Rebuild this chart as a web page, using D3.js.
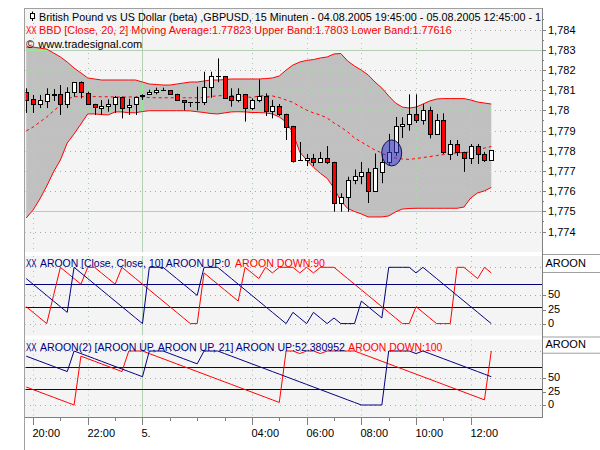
<!DOCTYPE html>
<html><head><meta charset="utf-8">
<script src="https://cdn.jsdelivr.net/npm/d3@7"></script>
<style>body{margin:0;background:#fff;}svg{display:block;font-family:"Liberation Sans",Arial,sans-serif;font-size:11px;}</style>
</head><body><svg id="c" width="600" height="450"></svg>
<script>
// ---------- data ----------
const openP  = [1.78089,1.78054,1.78031,1.78048,1.78079,1.78079,1.78031,1.78089,1.78139,1.78087,1.78031,1.78010,1.78021,1.78031,1.78067,1.78018,1.78030,1.78069,1.78079,1.78089,1.78102,1.78099,1.78079,1.78050,1.78040,1.78040,1.78040,1.78117,1.78168,1.78168,1.78069,1.78050,1.78079,1.78010,1.78050,1.78070,1.77998,1.78021,1.77982,1.77922,1.77754,1.77754,1.77762,1.77744,1.77762,1.77744,1.77540,1.77569,1.77655,1.77675,1.77695,1.77599,1.77695,1.77744,1.77794,1.77922,1.77932,1.77982,1.77952,1.78001,1.77883,1.77952,1.77784,1.77833,1.77794,1.77764,1.77823,1.77784,1.77754];
const highP  = [1.78109,1.78076,1.78076,1.78109,1.78105,1.78125,1.78114,1.78140,1.78143,1.78092,1.78032,1.78051,1.78054,1.78071,1.78068,1.78057,1.78068,1.78079,1.78102,1.78112,1.78112,1.78100,1.78082,1.78050,1.78041,1.78117,1.78191,1.78191,1.78257,1.78170,1.78109,1.78109,1.78081,1.78059,1.78153,1.78084,1.78051,1.78031,1.77983,1.77923,1.77843,1.77784,1.77784,1.77794,1.77823,1.77745,1.77589,1.77671,1.77707,1.77744,1.77713,1.77786,1.77784,1.77883,1.77967,1.77965,1.78079,1.78079,1.78031,1.78018,1.77982,1.77985,1.77853,1.77853,1.77795,1.77833,1.77833,1.77794,1.77803];
const lowP   = [1.77987,1.77987,1.78011,1.78011,1.78046,1.77977,1.78011,1.78067,1.78059,1.78026,1.77977,1.77977,1.77993,1.77987,1.77960,1.77977,1.77977,1.78051,1.78076,1.78079,1.78099,1.78078,1.78046,1.78000,1.78016,1.78000,1.78026,1.78062,1.78139,1.78058,1.78018,1.78040,1.77944,1.78001,1.78040,1.77972,1.77960,1.77972,1.77853,1.77741,1.77753,1.77724,1.77724,1.77743,1.77734,1.77498,1.77498,1.77498,1.77634,1.77634,1.77541,1.77598,1.77639,1.77728,1.77774,1.77863,1.77899,1.77937,1.77929,1.77861,1.77882,1.77784,1.77754,1.77774,1.77695,1.77734,1.77734,1.77744,1.77754];
const closeP = [1.78050,1.78031,1.78051,1.78079,1.78078,1.78030,1.78089,1.78139,1.78089,1.78031,1.78018,1.78021,1.78031,1.78067,1.78010,1.78026,1.78067,1.78078,1.78089,1.78099,1.78101,1.78079,1.78050,1.78040,1.78040,1.78041,1.78117,1.78168,1.78168,1.78059,1.78050,1.78079,1.78010,1.78050,1.78069,1.77998,1.78021,1.77982,1.77919,1.77751,1.77754,1.77762,1.77744,1.77762,1.77744,1.77540,1.77569,1.77655,1.77675,1.77695,1.77599,1.77713,1.77744,1.77795,1.77920,1.77932,1.77982,1.77950,1.78001,1.77883,1.77952,1.77794,1.77833,1.77794,1.77764,1.77823,1.77784,1.77754,1.77803];
const upperBand = [1.78313,1.78313,1.78308,1.78303,1.78284,1.78264,1.78239,1.78209,1.78185,1.78160,1.78155,1.78150,1.78150,1.78150,1.78150,1.78150,1.78150,1.78140,1.78130,1.78128,1.78125,1.78125,1.78130,1.78135,1.78140,1.78140,1.78145,1.78150,1.78150,1.78152,1.78155,1.78155,1.78155,1.78155,1.78155,1.78157,1.78160,1.78170,1.78199,1.78224,1.78239,1.78247,1.78251,1.78259,1.78264,1.78279,1.78281,1.78244,1.78219,1.78199,1.78175,1.78140,1.78110,1.78071,1.78036,1.78016,1.78011,1.78016,1.78031,1.78046,1.78056,1.78058,1.78058,1.78058,1.78058,1.78051,1.78041,1.78036,1.78031];
const lowerBand = [1.77467,1.77506,1.77561,1.77625,1.77695,1.77754,1.77838,1.77883,1.77932,1.77982,1.77982,1.77979,1.77977,1.77992,1.77992,1.77988,1.77988,1.77994,1.77998,1.77998,1.77998,1.77998,1.77998,1.77998,1.77997,1.77993,1.77989,1.77984,1.77982,1.77987,1.77992,1.77993,1.77992,1.77989,1.77989,1.77987,1.77982,1.77967,1.77942,1.77888,1.77793,1.77754,1.77718,1.77688,1.77663,1.77615,1.77551,1.77514,1.77499,1.77487,1.77472,1.77472,1.77472,1.77477,1.77497,1.77511,1.77514,1.77515,1.77515,1.77515,1.77515,1.77515,1.77515,1.77515,1.77521,1.77566,1.77591,1.77601,1.77618];
const movingAvg = [1.77898,1.77917,1.77942,1.77967,1.77997,1.78026,1.78056,1.78067,1.78068,1.78067,1.78068,1.78067,1.78067,1.78066,1.78066,1.78066,1.78066,1.78066,1.78063,1.78062,1.78062,1.78062,1.78062,1.78062,1.78062,1.78062,1.78063,1.78068,1.78072,1.78073,1.78073,1.78072,1.78068,1.78063,1.78071,1.78073,1.78071,1.78063,1.78051,1.78039,1.78019,1.78001,1.77987,1.77977,1.77962,1.77937,1.77917,1.77893,1.77863,1.77843,1.77823,1.77803,1.77789,1.77769,1.77764,1.77759,1.77757,1.77761,1.77766,1.77771,1.77776,1.77781,1.77786,1.77789,1.77791,1.77794,1.77803,1.77813,1.77821];
const aroonUp1   = [80,70,60,50,40,30,20,100,90,80,70,60,50,40,30,20,10,0,100,100,100,90,80,70,60,50,100,100,100,90,80,70,60,50,40,30,20,10,0,20,10,0,20,10,0,10,0,0,0,40,30,20,10,100,100,100,100,90,100,90,80,70,60,50,40,30,20,10,0];
const aroonDown1 = [30,20,10,0,50,100,90,80,70,100,100,90,80,70,100,90,80,70,60,50,40,30,20,10,0,0,90,80,70,60,50,40,100,90,80,100,90,100,100,100,90,100,90,100,100,100,90,80,70,60,50,40,30,20,10,0,0,30,20,10,0,0,0,100,100,90,80,100,90];
const aroonUp2   = [90.48,85.71,80.95,76.19,71.43,66.67,61.90,100,95.24,90.48,85.71,80.95,76.19,71.43,66.67,61.90,57.14,52.38,100,100,100,95.24,90.48,85.71,80.95,76.19,100,100,100,95.24,90.48,85.71,80.95,76.19,71.43,66.67,61.90,57.14,52.38,47.62,42.86,38.10,33.33,28.57,23.81,19.05,14.29,9.52,4.76,0,0,0,0,100,100,100,100,95.24,100,95.24,90.48,85.71,80.95,76.19,71.43,66.67,61.90,57.14,52.38];
const aroonDown2 = [33.33,28.57,23.81,19.05,14.29,9.52,4.76,0,90.48,85.71,80.95,76.19,71.43,66.67,61.90,100,100,100,95.24,90.48,85.71,80.95,76.19,71.43,66.67,61.90,57.14,52.38,47.62,42.86,38.10,33.33,28.57,23.81,19.05,14.29,9.52,4.76,100,100,95.24,100,100,95.24,100,100,100,100,100,95.24,90.48,85.71,80.95,76.19,71.43,66.67,61.90,57.14,52.38,47.62,42.86,38.10,33.33,28.57,23.81,19.05,14.29,9.52,100];
const priceTicks = [1.774,1.775,1.776,1.777,1.778,1.779,1.780,1.781,1.782,1.783,1.784];
const aroonTicks = [0,25,50];
const aroonGrid = [0,50,100];
const aroonLevels = [30,70];
const majorTickHours = [[4,20],[4,22],[5,0],[5,4],[5,6],[5,8],[5,10],[5,12]];
const majorTickLabels = ["20:00","22:00","5.","04:00","06:00","08:00","10:00","12:00"];
const minorTickHours = [[4,21],[4,23],[5,1],[5,2],[5,3],[5,5],[5,7],[5,9],[5,11]];
const titleText = "British Pound vs US Dollar (beta) ,GBPUSD, 15 Minuten - 04.08.2005 19:45:00 - 05.08.2005 12:45:00 - 1";
const bbText = "BBD [Close, 20, 2] Moving Average:1.77823 Upper Band:1.7803 Lower Band:1.77616";
const aroon1Text = ["AROON [Close, Close, 10] AROON UP:0", "AROON DOWN:90"];
const aroon2Text = ["AROON(2) [AROON UP, AROON UP, 21] AROON UP:52.380952", "AROON DOWN:100"];
const markBar = 53, markPrice = 1.77789;

// ---------- setup ----------
const svg = d3.select('#c');
const L = 25, R = 542;
const T0 = new Date(2005,7,4,19,45);
const times = openP.map((_,i)=>new Date(T0.getTime()+i*15*60000));
const x = d3.scaleTime().domain([times[0], times[times.length-1]]).range([26.2, 491.3]);
const y = d3.scaleLinear().domain([1.774,1.784]).range([231.5,29.5]);
const ya1 = d3.scaleLinear().domain([0,100]).range([323.6,267.3]);
const ya2 = d3.scaleLinear().domain([0,100]).range([405,351]);
const P = {main:[8,252], a1:[256,335.5], a2:[339.5,417.5]};
const hourDate = (d,h)=>new Date(2005,7,d,h,0);
const majors = majorTickHours.map(a=>hourDate(a[0],a[1]));
const minors = minorTickHours.map(a=>hourDate(a[0],a[1]));
const midnight = hourDate(5,0);
const defs = svg.append('defs');
const fmtP = v => d3.format(".3~f")(v).replace('.',',');
const px = v => Math.round(v)+0.5;

function fit(sel,w){const l=sel.node().getComputedTextLength(); if(Math.abs(l-w)>1) sel.attr('textLength',w).attr('lengthAdjust','spacingAndGlyphs');}

Object.entries(P).forEach(([k,[t,b]])=>{
  svg.append('rect').attr('x',L).attr('y',t).attr('width',R-L).attr('height',b-t).attr('fill','#f4f4f4');
  defs.append('clipPath').attr('id','clip_'+k).append('rect').attr('x',L+0.5).attr('y',t).attr('width',R-L-0.5).attr('height',b-t);
});

function vGrid(g,t,b,color){
  majors.filter(d=>+d!==+midnight).forEach(d=>{
    g.append('line').attr('x1',px(x(d))).attr('x2',px(x(d))).attr('y1',t).attr('y2',b)
     .attr('stroke',color).attr('stroke-dasharray','1,4');
  });
}
function hGrid(g,vals,sc,color){
  vals.forEach(v=>g.append('line').attr('x1',L).attr('x2',R).attr('y1',px(sc(v))).attr('y2',px(sc(v)))
     .attr('stroke',color).attr('stroke-dasharray','1,4'));
}

// ---------- main panel ----------
const gm = svg.append('g').attr('clip-path','url(#clip_main)');
hGrid(gm,priceTicks,y,'#a8a8a8');
vGrid(gm,P.main[0],P.main[1],'#a8c8a8');
const solidG = '#b4d0b4';
gm.append('line').attr('x1',px(x(midnight))).attr('x2',px(x(midnight))).attr('y1',P.main[0]).attr('y2',P.main[1]).attr('stroke',solidG);
[1.783,1.775].forEach(v=>gm.append('line').attr('x1',L).attr('x2',R).attr('y1',px(y(v))).attr('y2',px(y(v))).attr('stroke',solidG));

const bandArea = d3.area().x((d,i)=>x(times[i])).y0((d,i)=>y(lowerBand[i])).y1(d=>y(d));
gm.append('path').datum(upperBand).attr('d',bandArea).attr('fill','#c0c0c0');
defs.append('clipPath').attr('id','bandClip').append('path').datum(upperBand).attr('d',bandArea);
const gb = gm.append('g').attr('clip-path','url(#bandClip)');
hGrid(gb,priceTicks,y,'#90ee90');
vGrid(gb,P.main[0],P.main[1],'#90ee90');
gb.append('line').attr('x1',px(x(midnight))).attr('x2',px(x(midnight))).attr('y1',P.main[0]).attr('y2',P.main[1]).attr('stroke','#90ee90');
[1.783,1.775].forEach(v=>gb.append('line').attr('x1',L).attr('x2',R).attr('y1',px(y(v))).attr('y2',px(y(v))).attr('stroke','#90ee90'));

const ln = arr => d3.line().x((d,i)=>x(times[i])).y(d=>y(d))(arr);
gm.append('path').attr('d',ln(upperBand)).attr('fill','none').attr('stroke','#ff0000');
gm.append('path').attr('d',ln(lowerBand)).attr('fill','none').attr('stroke','#ff0000');
gm.append('path').attr('d',ln(movingAvg)).attr('fill','none').attr('stroke','#ff0000').attr('stroke-dasharray','3,3');

times.forEach((t,i)=>{
  const cx = px(x(t));
  const o=openP[i], c=closeP[i];
  gm.append('line').attr('x1',cx).attr('x2',cx).attr('y1',y(highP[i])).attr('y2',y(lowP[i])).attr('stroke','#000');
  const top = Math.round(y(Math.max(o,c)))+0.5, bot = Math.round(y(Math.min(o,c)))+0.5;
  if (bot-top < 1) {
    gm.append('line').attr('x1',cx-2.5).attr('x2',cx+2.5).attr('y1',top).attr('y2',top).attr('stroke','#000');
  } else {
    gm.append('rect').attr('x',cx-2).attr('y',top).attr('width',4).attr('height',bot-top)
      .attr('fill', c>=o ? '#ffffff' : '#ff0000').attr('stroke','#000');
  }
});
gm.append('ellipse').attr('cx',x(times[markBar])+3).attr('cy',y(markPrice)).attr('rx',10).attr('ry',13)
  .attr('fill','rgb(60,60,210)').attr('fill-opacity',0.55).attr('stroke','#10104a');

// header
const gh = svg.append('g').attr('clip-path','url(#clip_main)');
gh.append('line').attr('x1',32.5).attr('x2',32.5).attr('y1',11.5).attr('y2',21).attr('stroke','#000');
gh.append('rect').attr('x',30.5).attr('y',13.5).attr('width',4).attr('height',5).attr('fill','#fff').attr('stroke','#000');
fit(gh.append('text').attr('x',39).attr('y',20.5).attr('fill','#000').text(titleText),502);
fit(gh.append('text').attr('x',26).attr('y',34.2).attr('fill','#ff0000').attr('font-size','10px').text('XX'),10.5);
fit(gh.append('text').attr('x',39).attr('y',34.2).attr('fill','#ff0000').text(bbText),412.7);
fit(gh.append('text').attr('x',26).attr('y',47.7).attr('fill','#000').text('©'),7.5);
fit(gh.append('text').attr('x',38.3).attr('y',47.7).attr('fill','#000').text('www.tradesignal.com'),103.4);

// ---------- aroon panels ----------
function aroonPanel(key,sc,up,down,texts,len,baseline){
  const [t,b]=P[key];
  const g = svg.append('g').attr('clip-path','url(#clip_'+key+')');
  hGrid(g,aroonGrid,sc,'#a8a8a8');
  vGrid(g,t,b,'#a8c8a8');
  g.append('line').attr('x1',px(x(midnight))).attr('x2',px(x(midnight))).attr('y1',t).attr('y2',b).attr('stroke',solidG);
  aroonLevels.forEach(v=>g.append('line').attr('x1',L).attr('x2',R).attr('y1',px(sc(v))).attr('y2',px(sc(v))).attr('stroke','#000080'));
  const l = d3.line().x((d,i)=>x(times[i])).y(d=>sc(d));
  g.append('path').attr('d',l(down)).attr('fill','none').attr('stroke','#ff0000');
  g.append('path').attr('d',l(up)).attr('fill','none').attr('stroke','#000080');
  fit(g.append('text').attr('x',26).attr('y',baseline).attr('fill','#000080').attr('font-size','10px').text('XX'),10.5);
  fit(g.append('text').attr('x',40).attr('y',baseline).attr('fill','#000080').text(texts[0]),len[0]);
  fit(g.append('text').attr('x',len[1]).attr('y',baseline).attr('fill','#ff0000').text(texts[1]),len[2]);
  aroonTicks.forEach(v=>{
    svg.append('line').attr('x1',R).attr('x2',R+4).attr('y1',px(sc(v))).attr('y2',px(sc(v))).attr('stroke','#808080');
    svg.append('text').attr('x',548).attr('y',sc(v)+3).attr('fill','#000').text(v);
  });
}
aroonPanel('a1',ya1,aroonUp1,aroonDown1,aroon1Text,[190,235,90],267.3);
aroonPanel('a2',ya2,aroonUp2,aroonDown2,aroon2Text,[305,348.3,94],350.7);

[[254,272,266.8],[336.5,352.7,348.3]].forEach(([t,b,bl])=>{
  svg.append('rect').attr('x',R+0.5).attr('y',t+0.5).attr('width',600-R).attr('height',b-t).attr('fill','#fff').attr('stroke','#a0a0a0');
  svg.append('text').attr('x',545.5).attr('y',bl).attr('fill','#000').text('AROON');
});

// ---------- main right axis ----------
priceTicks.forEach(v=>{
  svg.append('line').attr('x1',R).attr('x2',R+4).attr('y1',px(y(v))).attr('y2',px(y(v))).attr('stroke','#808080');
  svg.append('line').attr('x1',R).attr('x2',R+2).attr('y1',px(y(v+0.0005))).attr('y2',px(y(v+0.0005))).attr('stroke','#808080');
  svg.append('text').attr('x',548).attr('y',y(v)+4).attr('fill','#000').text(fmtP(v));
});

svg.append('line').attr('x1',L).attr('x2',R).attr('y1',8.5).attr('y2',8.5).attr('stroke','#a0a0a0');
svg.append('line').attr('x1',24.5).attr('x2',24.5).attr('y1',8).attr('y2',450).attr('stroke','#a0a0a0');
svg.append('line').attr('x1',R+0.5).attr('x2',R+0.5).attr('y1',8).attr('y2',418).attr('stroke','#808080');

// ---------- x axis ----------
svg.append('line').attr('x1',L).attr('x2',R+1).attr('y1',417.5).attr('y2',417.5).attr('stroke','#808080');
majors.forEach((d,i)=>{
  const xx=px(x(d));
  svg.append('line').attr('x1',xx).attr('x2',xx).attr('y1',418).attr('y2',425).attr('stroke','#808080');
  svg.append('text').attr('x',xx-1).attr('y',437).attr('fill','#000').text(majorTickLabels[i]);
});
minors.forEach(d=>{
  const xx=px(x(d));
  svg.append('line').attr('x1',xx).attr('x2',xx).attr('y1',418).attr('y2',421).attr('stroke','#808080');
});
</script></body></html>
